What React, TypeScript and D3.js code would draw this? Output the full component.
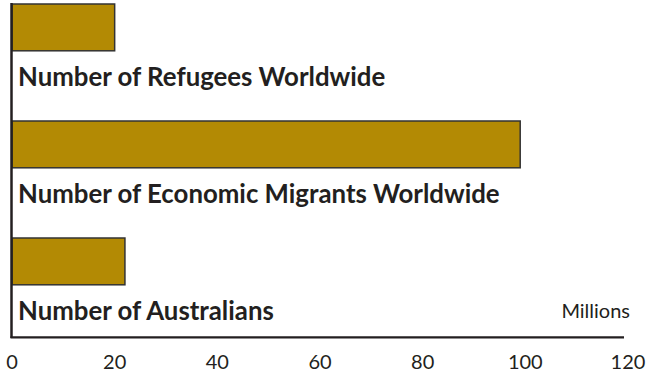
import React from "react";
import * as d3 from "d3";

const categories = [
  "Number of Refugees Worldwide",
  "Number of Economic Migrants Worldwide",
  "Number of Australians",
];
const values = [20, 99, 22];
const tickValues = [0, 20, 40, 60, 80, 100, 120];
const unitLabel = "Millions";

const W = 654;
const H = 374;

export default function App() {
  const x = d3.scaleLinear().domain([0, 120]).range([12, 628]);
  const y = d3
    .scaleBand<string>()
    .domain(categories)
    .range([4, 4 + 117 * 2.4])
    .paddingInner(0.6)
    .paddingOuter(0);
  const font = "Lato, 'Open Sans', sans-serif";
  return (
    <svg
      width={W}
      height={H}
      style={{ position: "absolute", left: 0, top: 0, background: "#fff" }}
    >
      {categories.map((c, i) => {
        const y0 = y(c)!;
        return (
          <g key={c}>
            <rect
              x={x(0)}
              y={y0}
              width={x(values[i]) - x(0)}
              height={y.bandwidth()}
              fill="#b38a04"
              stroke="#333"
              strokeWidth={1.5}
            />
            <text
              x={18}
              y={y0 + y.bandwidth() + 35}
              fontFamily={font}
              fontWeight={700}
              fontSize={25.8}
              fill="#231f20"
            >
              {c}
            </text>
          </g>
        );
      })}
      <line x1={11.5} x2={11.5} y1={3} y2={338} stroke="#231f20" strokeWidth={2.5} />
      <line x1={10.5} x2={624} y1={337.3} y2={337.3} stroke="#231f20" strokeWidth={2.3} />
      {tickValues.map((t) => (
        <text
          key={t}
          x={x(t)}
          y={369}
          textAnchor="middle"
          fontFamily={font}
          fontSize={20}
          fill="#231f20"
        >
          {t}
        </text>
      ))}
      <text
        x={630}
        y={318}
        textAnchor="end"
        fontFamily={font}
        fontSize={20}
        fill="#231f20"
      >
        {unitLabel}
      </text>
    </svg>
  );
}
